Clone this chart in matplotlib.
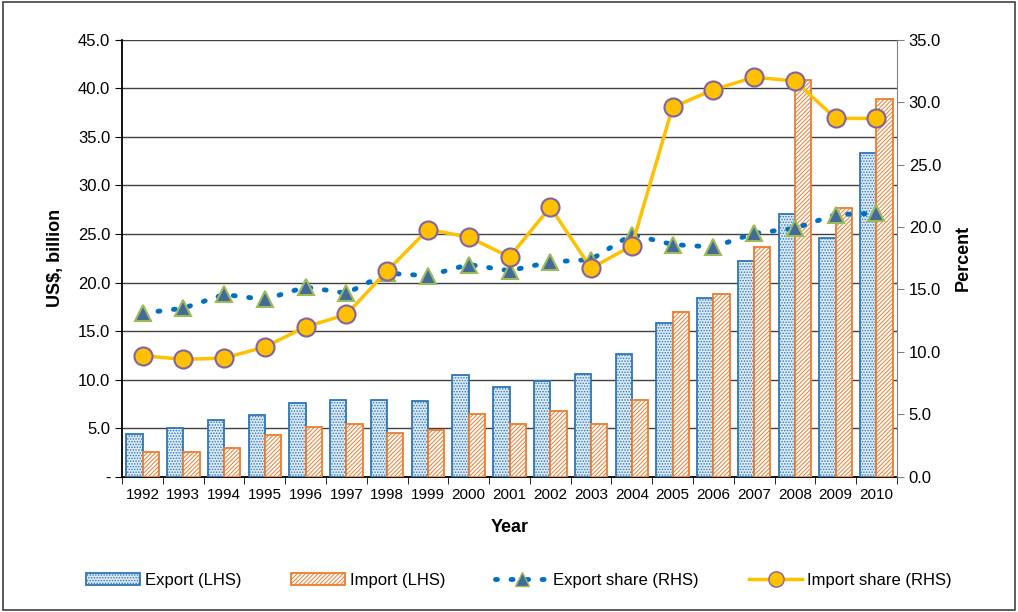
import numpy as np
import matplotlib
matplotlib.use("Agg")
import matplotlib.pyplot as plt
from matplotlib.lines import Line2D
from matplotlib.patches import Patch, Rectangle

plt.rcParams['font.family'] = ['Liberation Sans Narrow', 'Liberation Sans', 'DejaVu Sans']
plt.rcParams['hatch.linewidth'] = 0.7

# data
years = [str(y) for y in range(1992, 2011)]
export_bn = [4.4, 5.0, 5.8, 6.4, 7.6, 7.9, 7.9, 7.8, 10.5, 9.2, 9.9, 10.6,
             12.6, 15.8, 18.4, 22.2, 27.1, 24.6, 33.3]
import_bn = [2.6, 2.6, 3.0, 4.25, 5.1, 5.45, 4.55, 4.8, 6.5, 5.45, 6.8, 5.45,
             7.9, 17.0, 18.85, 23.7, 40.9, 27.7, 38.9]
export_share = [13.1, 13.5, 14.6, 14.2, 15.2, 14.7, 16.3, 16.1, 17.0, 16.5,
                17.2, 17.4, 19.4, 18.6, 18.4, 19.5, 19.9, 21.0, 21.1]
import_share = [9.7, 9.4, 9.5, 10.4, 12.0, 13.0, 16.5, 19.8, 19.2, 17.6,
                21.6, 16.7, 18.5, 29.6, 31.0, 32.0, 31.7, 28.7, 28.7]

left_ticks = np.arange(0, 45.1, 5)
right_ticks = np.arange(0, 35.1, 5)

blue = '#2E75B6'
orange = '#ED7D31'
dots = (0, (0.4, 2.8))

fig = plt.figure(figsize=(10.18, 6.12), dpi=100)
ax = fig.add_axes([0.120, 0.221, 0.761, 0.714])
x = np.arange(len(years))
w = 0.4

ax.bar(x - w / 2, export_bn, w, color='#DDEBF7', edgecolor=blue, hatch='......',
       linewidth=1.3, zorder=3)
ax.bar(x + w / 2, import_bn, w, color='white', edgecolor=orange, hatch='////////',
       linewidth=1.3, zorder=3)

ax.set_ylim(0, 45)
ax.set_xlim(-0.5, len(years) - 0.5)
ax.set_yticks(left_ticks)
ax.set_yticklabels(['-'] + ['%.1f' % v for v in left_ticks[1:]], fontsize=12)
ax.yaxis.grid(True, color='#404040', linewidth=1.0, zorder=0)
ax.set_axisbelow(True)
ax.set_xticks(x)
ax.set_xticklabels(years, fontsize=11)
ax.set_xticks(np.arange(-0.5, len(years)), minor=True)
ax.tick_params(axis='x', which='major', length=0, pad=8)
ax.tick_params(axis='x', which='minor', length=5, color='black')
ax.tick_params(axis='y', length=5, color='black')
ax.spines['top'].set_visible(False)
ax.spines['right'].set_visible(False)
ax.spines['left'].set_linewidth(1.3)
ax.spines['bottom'].set_linewidth(1.3)
ax.set_ylabel('US$, billion', fontsize=13, fontweight='bold', labelpad=10)
ax.set_xlabel('Year', fontsize=13, fontweight='bold', labelpad=12)

ax2 = ax.twinx()
ax2.set_ylim(0, 35)
ax2.set_yticks(right_ticks)
ax2.set_yticklabels(['%.1f' % v for v in right_ticks], fontsize=12)
ax2.tick_params(axis='y', length=5, color='#808080')
for s in ['top', 'left', 'bottom']:
    ax2.spines[s].set_visible(False)
ax2.spines['right'].set_color('#808080')
ax2.set_ylabel('Percent', fontsize=13, fontweight='bold', labelpad=10)

ax2.plot(x, export_share, color='#0070C0', linestyle=dots, linewidth=3.5,
         dash_capstyle='round', marker='^', markersize=12, markerfacecolor='#44699B',
         markeredgecolor='#9BBB59', markeredgewidth=1.5, zorder=4)
ax2.plot(x, import_share, color='#FFC000', linewidth=2.5, marker='o', markersize=13,
         markerfacecolor='#FFC000', markeredgecolor='#8064A2', markeredgewidth=1.5,
         zorder=5)

handles = [
    Patch(facecolor='#DDEBF7', edgecolor=blue, hatch='......', linewidth=1.3),
    Patch(facecolor='white', edgecolor=orange, hatch='////////', linewidth=1.3),
    Line2D([], [], color='#0070C0', linestyle=dots, linewidth=3.5,
           dash_capstyle='round', marker='^', markersize=10, markerfacecolor='#44699B',
           markeredgecolor='#9BBB59'),
    Line2D([], [], color='#FFC000', linewidth=2.5, marker='o', markersize=11,
           markerfacecolor='#FFC000', markeredgecolor='#8064A2'),
]
labels = ['Export (LHS)', 'Import (LHS)', 'Export share (RHS)', 'Import share (RHS)']
fig.legend(handles, labels, loc='center', bbox_to_anchor=(0.51, 0.052), ncol=4,
           frameon=False, fontsize=12, handlelength=3.2, columnspacing=3.0,
           handletextpad=0.3)

fig.patches.append(Rectangle((0.003, 0.003), 0.994, 0.994, transform=fig.transFigure,
                             fill=False, edgecolor='#404040', linewidth=1.2))

fig.savefig('out.png', dpi=100)
